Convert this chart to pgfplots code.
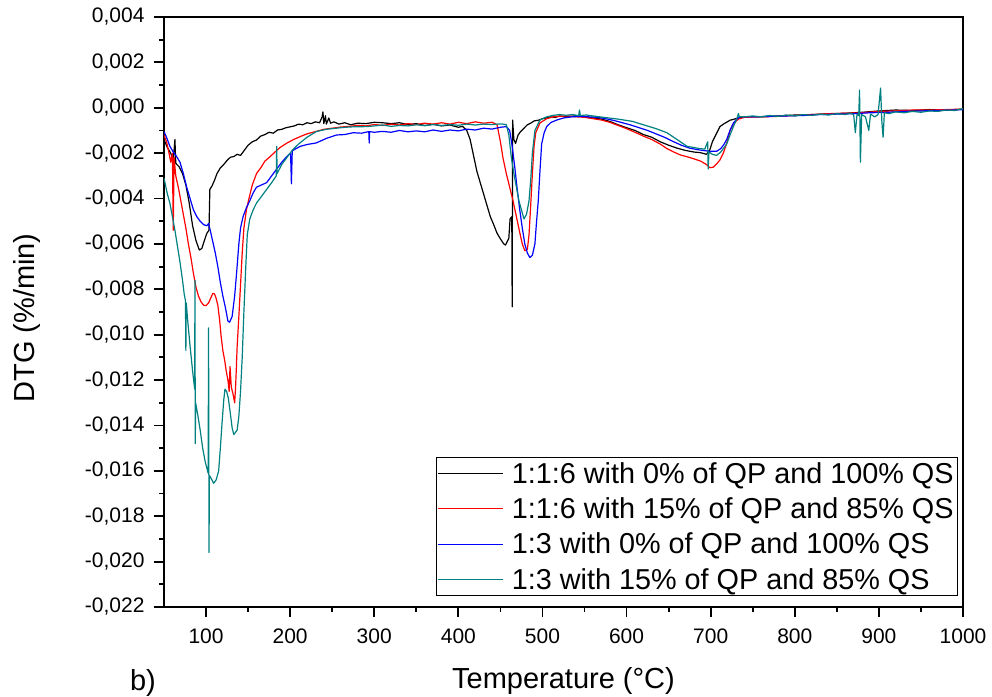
\documentclass[border=0pt]{standalone}
\usepackage{fontspec}
\setmainfont{Liberation Sans}
\usepackage{pgfplots}
\pgfplotsset{compat=1.18}
\definecolor{dteal}{RGB}{0,128,128}
\newcommand\tickfont{\fontsize{21}{25}\selectfont}
\newcommand\labfont{\fontsize{29}{34}\selectfont}

\begin{document}
\begin{tikzpicture}
\useasboundingbox (-164pt,-89pt) rectangle (828pt,607pt);
\begin{axis}[
  at={(0pt,0pt)}, anchor=south west,
  width=799pt, height=590pt, scale only axis,
  xmin=50, xmax=1000, ymin=-0.022, ymax=0.004,
  xtick={100,200,300,400,500,600,700,800,900,1000},
  ytick={-0.022,-0.020,-0.018,-0.016,-0.014,-0.012,-0.010,-0.008,-0.006,-0.004,-0.002,0,0.002,0.004},
  minor x tick num=1, minor y tick num=1,
  axis line style={line width=2.6pt},
  axis background/.style={draw=black, line width=2.6pt},
  tick pos=left, tick align=outside,
  major tick length=10pt, minor tick length=5pt,
  every tick/.style={black, line width=1.8pt},
  scaled y ticks=false,
  tick label style={font=\tickfont},
  yticklabel style={/pgf/number format/.cd, fixed, fixed zerofill, precision=3, use comma, assume math mode=true, /tikz/.cd, xshift=-6pt},
  xticklabel style={/pgf/number format/.cd, 1000 sep={}, assume math mode=true, /tikz/.cd, yshift=-8pt},
  xlabel={Temperature (°C)},
  ylabel={DTG (\%/min)},
  label style={font=\labfont},
  xlabel style={at={(rel axis cs:0.5,0)}, anchor=north, inner sep=0pt, yshift=-60pt},
  ylabel style={at={(rel axis cs:-0.1715,0.49)}, anchor=center, inner sep=0pt},
  legend style={at={(rel axis cs:0.9937,0.0186)}, anchor=south east, draw=black, line width=0.6pt,
    font=\fontsize{28.8}{34}\selectfont, inner xsep=2pt, inner ysep=3pt, row sep=9pt, column sep=6pt},
  legend cell align=left,
  legend image code/.code={\draw[#1, line width=1pt] (0pt,0pt) -- (65pt,0pt);},
  every axis plot/.append style={line width=1.2pt, line join=round},
]
\addplot[black] coordinates {
(50,-0.00140)(54,-0.00175)(58,-0.00200)(61,-0.00230)(63,-0.00140)(64,-0.00245)(68,-0.00260)
(72,-0.00290)(76,-0.00340)(80,-0.00420)(84,-0.00520)(88,-0.00585)(92,-0.00627)(95,-0.00620)
(98,-0.00585)(101,-0.00553)(103.5,-0.00540)(104.5,-0.00360)(107,-0.00345)(110,-0.00320)
(113,-0.00290)(117,-0.00265)(121,-0.00250)(125,-0.00232)(129,-0.00218)(133,-0.00215)
(137,-0.00205)(141,-0.00210)(145,-0.00190)(150,-0.00165)(155,-0.00150)(160,-0.00142)
(165,-0.00125)(170,-0.00118)(175,-0.00108)(180,-0.00112)(185,-0.00098)(190,-0.00095)
(195,-0.00088)(200,-0.00084)(205,-0.00080)(210,-0.00072)(215,-0.00075)(220,-0.00066)
(225,-0.00070)(230,-0.00062)(235,-0.00066)(238,-0.00040)(239,-0.00018)(240,-0.00070)
(242,-0.00035)(243,-0.00072)(246,-0.00045)(248,-0.00068)(252,-0.00062)(258,-0.00072)
(265,-0.00066)(272,-0.00075)(280,-0.00068)(290,-0.00070)(300,-0.00064)(310,-0.00066)
(320,-0.00070)(330,-0.00066)(340,-0.00074)(350,-0.00070)(360,-0.00078)(370,-0.00073)
(380,-0.00080)(390,-0.00076)(400,-0.00086)(405,-0.00082)(410,-0.00100)(414,-0.00140)
(418,-0.00210)(422,-0.00280)(426,-0.00330)(430,-0.00380)(434,-0.00430)(438,-0.00480)
(442,-0.00515)(446,-0.00553)(450,-0.00578)(454,-0.00600)(456,-0.00605)(458,-0.00590)
(460,-0.00575)(461.5,-0.00490)(463.5,-0.00480)(464,-0.00877)(464.5,-0.00054)(466,-0.00140)
(468,-0.00157)(471,-0.00120)(474,-0.00105)(478,-0.00090)(482,-0.00075)(486,-0.00068)
(490,-0.00058)(495,-0.00055)(500,-0.00048)(505,-0.00045)(510,-0.00040)(515,-0.00043)
(520,-0.00036)(530,-0.00040)(540,-0.00035)(550,-0.00040)(560,-0.00045)(570,-0.00050)
(580,-0.00060)(590,-0.00075)(600,-0.00088)(610,-0.00100)(620,-0.00118)(630,-0.00130)
(640,-0.00150)(650,-0.00165)(660,-0.00178)(670,-0.00188)(680,-0.00195)(688,-0.00198)
(695,-0.00205)(699,-0.00185)(702,-0.00150)(706,-0.00120)(711,-0.00083)(716,-0.00070)
(723,-0.00055)(730,-0.00048)(743,-0.00039)(760,-0.00040)(780,-0.00036)(800,-0.00032)
(820,-0.00030)(840,-0.00027)(860,-0.00024)(880,-0.00020)(900,-0.00014)(920,-0.00010)
(940,-0.00012)(960,-0.00008)(980,-0.00010)(1000,-0.00006)
};
\addlegendentry{1:1:6 with 0\% of QP and 100\% QS}
\addplot[red] coordinates {
(50,-0.00120)(53,-0.00150)(56,-0.00200)(58,-0.00240)(60,-0.00200)(61,-0.00540)(62,-0.00220)
(64,-0.00300)(67,-0.00350)(70,-0.00410)(73,-0.00470)(76,-0.00530)(79,-0.00600)(82,-0.00660)
(85,-0.00730)(88,-0.00790)(91,-0.00830)(94,-0.00855)(97,-0.00870)(100,-0.00872)(103,-0.00860)
(106,-0.00835)(108,-0.00818)(110,-0.00820)(112,-0.00840)(114,-0.00870)(116,-0.00930)
(118,-0.01010)(120,-0.01070)(122,-0.01110)(124,-0.01160)(126,-0.01200)(127.5,-0.01250)
(128.5,-0.01140)(130,-0.01230)(132,-0.01260)(134,-0.01300)(135,-0.01240)(136,-0.01150)
(137,-0.01050)(139,-0.00920)(141,-0.00780)(143,-0.00640)(145,-0.00530)(148,-0.00450)
(151,-0.00400)(155,-0.00340)(160,-0.00290)(165,-0.00265)(170,-0.00235)(176,-0.00216)
(182,-0.00195)(188,-0.00175)(196,-0.00156)(204,-0.00140)(212,-0.00127)(220,-0.00115)
(230,-0.00105)(240,-0.00095)(250,-0.00090)(260,-0.00085)(270,-0.00082)(280,-0.00078)
(290,-0.00080)(300,-0.00074)(310,-0.00078)(320,-0.00072)(330,-0.00076)(340,-0.00070)
(350,-0.00074)(360,-0.00068)(370,-0.00072)(380,-0.00066)(390,-0.00072)(400,-0.00064)
(410,-0.00070)(420,-0.00062)(430,-0.00068)(440,-0.00064)(446,-0.00075)(450,-0.00150)
(453,-0.00220)(457,-0.00290)(461,-0.00350)(465,-0.00410)(469,-0.00480)(473,-0.00550)
(476,-0.00600)(479,-0.00630)(482,-0.00625)(484,-0.00560)(486,-0.00430)(488,-0.00290)
(490,-0.00170)(492,-0.00110)(497,-0.00067)(505,-0.00048)(513,-0.00040)(520,-0.00038)
(530,-0.00036)(540,-0.00040)(550,-0.00042)(560,-0.00048)(570,-0.00054)(580,-0.00064)
(590,-0.00078)(600,-0.00092)(610,-0.00108)(620,-0.00125)(630,-0.00140)(640,-0.00160)
(648,-0.00180)(656,-0.00195)(664,-0.00208)(672,-0.00216)(680,-0.00225)(688,-0.00235)
(695,-0.00250)(699,-0.00264)(703,-0.00262)(707,-0.00248)(711,-0.00230)(715,-0.00200)
(719,-0.00157)(723,-0.00100)(727,-0.00070)(733,-0.00050)(740,-0.00042)(760,-0.00040)
(780,-0.00038)(800,-0.00034)(820,-0.00030)(840,-0.00026)(860,-0.00024)(880,-0.00022)
(900,-0.00016)(920,-0.00014)(940,-0.00010)(960,-0.00010)(980,-0.00008)(1000,-0.00006)
};
\addlegendentry{1:1:6 with 15\% of QP and 85\% QS}
\addplot[blue] coordinates {
(50,-0.00105)(53,-0.00130)(57,-0.00170)(61,-0.00195)(65,-0.00215)(69,-0.00240)(73,-0.00290)
(77,-0.00350)(81,-0.00400)(85,-0.00450)(89,-0.00480)(93,-0.00500)(97,-0.00515)(101,-0.00520)
(103,-0.00510)(105,-0.00540)(108,-0.00590)(111,-0.00640)(114,-0.00700)(117,-0.00770)
(120,-0.00830)(123,-0.00880)(126,-0.00940)(128,-0.00945)(131,-0.00920)(134,-0.00830)
(136.5,-0.00720)(139,-0.00600)(141,-0.00530)(144,-0.00480)(148,-0.00440)(152,-0.00410)
(156,-0.00375)(160,-0.00350)(166,-0.00340)(172,-0.00330)(178,-0.00300)(184,-0.00270)
(190,-0.00240)(196,-0.00215)(200.5,-0.00200)(201.5,-0.00335)(202.5,-0.00190)(207,-0.00180)
(212,-0.00170)(220,-0.00162)(231,-0.00155)(243,-0.00135)(255,-0.00120)(265,-0.00118)
(275,-0.00110)(285,-0.00112)(293.5,-0.00105)(294,-0.00155)(294.5,-0.00105)(300,-0.00108)
(310,-0.00104)(320,-0.00108)(330,-0.00100)(340,-0.00106)(350,-0.00102)(360,-0.00106)
(370,-0.00098)(380,-0.00104)(390,-0.00098)(400,-0.00102)(410,-0.00094)(420,-0.00098)
(430,-0.00090)(440,-0.00094)(450,-0.00086)(457,-0.00083)(461,-0.00100)(464,-0.00170)
(467,-0.00260)(470,-0.00360)(473,-0.00450)(476,-0.00530)(479,-0.00600)(482,-0.00640)
(485,-0.00660)(488,-0.00650)(491,-0.00600)(493,-0.00500)(495,-0.00410)(497,-0.00280)
(499,-0.00160)(502,-0.00110)(505,-0.00083)(510,-0.00065)(517,-0.00054)(525,-0.00045)
(535,-0.00040)(545,-0.00038)(555,-0.00040)(565,-0.00042)(575,-0.00048)(585,-0.00056)
(595,-0.00066)(605,-0.00076)(615,-0.00088)(625,-0.00100)(635,-0.00115)(645,-0.00130)
(655,-0.00148)(665,-0.00165)(675,-0.00178)(685,-0.00185)(695,-0.00190)(700,-0.00192)
(707,-0.00192)(712,-0.00180)(716,-0.00160)(719,-0.00140)(723,-0.00100)(727,-0.00067)
(731,-0.00050)(735,-0.00040)(750,-0.00040)(770,-0.00038)(790,-0.00036)(810,-0.00034)
(830,-0.00030)(850,-0.00028)(870,-0.00026)(890,-0.00022)(910,-0.00020)(930,-0.00016)
(950,-0.00014)(970,-0.00012)(990,-0.00010)(1000,-0.00008)
};
\addlegendentry{1:3 with 0\% of QP and 100\% QS}
\addplot[dteal] coordinates {
(50,-0.00310)(54,-0.00380)(57,-0.00420)(60,-0.00480)(63,-0.00540)(66,-0.00610)(69,-0.00680)
(72,-0.00760)(74,-0.00820)(75.5,-0.00850)(76,-0.01070)(76.5,-0.00860)(78,-0.00930)
(81,-0.01050)(84,-0.01160)(86.5,-0.01240)(86.8,-0.00760)(87.2,-0.01480)(87.6,-0.01300)
(90,-0.01350)(93,-0.01420)(96,-0.01500)(99,-0.01560)(102.5,-0.01610)(103,-0.00970)
(103.5,-0.01960)(104,-0.01620)(107,-0.01640)(109,-0.01655)(112,-0.01640)(115,-0.01600)
(117,-0.01500)(119,-0.01390)(121,-0.01290)(122.5,-0.01240)(124.5,-0.01250)(126.5,-0.01280)
(129,-0.01350)(131,-0.01410)(133,-0.01440)(135,-0.01430)(137,-0.01420)(139,-0.01360)
(141,-0.01250)(143,-0.01100)(145,-0.00900)(147,-0.00720)(149,-0.00560)(152,-0.00490)
(156,-0.00450)(160,-0.00420)(166,-0.00390)(172,-0.00360)(178,-0.00330)(183.5,-0.00300)
(184,-0.00170)(184.5,-0.00290)(190,-0.00250)(196,-0.00220)(203,-0.00185)(210,-0.00160)
(220,-0.00130)(231,-0.00105)(243,-0.00095)(255,-0.00090)(265,-0.00086)(275,-0.00084)
(291,-0.00083)(300,-0.00080)(310,-0.00076)(320,-0.00082)(330,-0.00078)(340,-0.00080)
(350,-0.00075)(360,-0.00079)(370,-0.00074)(380,-0.00078)(390,-0.00074)(400,-0.00077)
(410,-0.00072)(420,-0.00076)(430,-0.00072)(440,-0.00074)(450,-0.00071)(457,-0.00074)
(460,-0.00120)(463,-0.00220)(466,-0.00290)(469,-0.00350)(472,-0.00410)(475,-0.00450)
(478,-0.00490)(481,-0.00470)(484,-0.00410)(486,-0.00320)(488,-0.00200)(491,-0.00100)
(497,-0.00054)(505,-0.00040)(512,-0.00034)(520,-0.00030)(528,-0.00033)(536,-0.00030)
(543,-0.00035)(544,-0.00010)(545,-0.00034)(552,-0.00032)(560,-0.00036)(568,-0.00040)
(590,-0.00050)(607,-0.00060)(620,-0.00075)(635,-0.00092)(648,-0.00110)(660,-0.00140)
(672,-0.00170)(680,-0.00175)(687,-0.00180)(693,-0.00182)(696.5,-0.00150)(697,-0.00270)
(698,-0.00195)(702,-0.00205)(707,-0.00210)(712,-0.00195)(716,-0.00175)(719,-0.00160)
(723,-0.00120)(727,-0.00083)(731,-0.00050)(733,-0.00025)(734,-0.00040)(740,-0.00040)
(750,-0.00036)(760,-0.00040)(770,-0.00034)(780,-0.00038)(790,-0.00032)(800,-0.00036)
(810,-0.00030)(820,-0.00034)(830,-0.00028)(840,-0.00032)(850,-0.00026)(860,-0.00030)
(866,-0.00024)(870,-0.00030)(872,-0.00110)(874,-0.00028)(876,-0.00035)(877,0.00078)
(878,-0.00240)(879.5,-0.00030)(884,-0.00040)(888,-0.00100)(890,-0.00028)(895,-0.00040)
(899,-0.00030)(902,0.00087)(903.5,-0.00060)(905,-0.00130)(906.5,-0.00022)(912,-0.00026)
(920,-0.00018)(930,-0.00022)(940,-0.00016)(950,-0.00020)(960,-0.00014)(970,-0.00016)
(980,-0.00010)(990,-0.00012)(1000,-0.00004)
};
\addlegendentry{1:3 with 15\% of QP and 85\% QS}
\end{axis}
\node[font=\labfont, inner sep=0pt] at (-21pt,-76pt) {b)};
\end{tikzpicture}
\end{document}
